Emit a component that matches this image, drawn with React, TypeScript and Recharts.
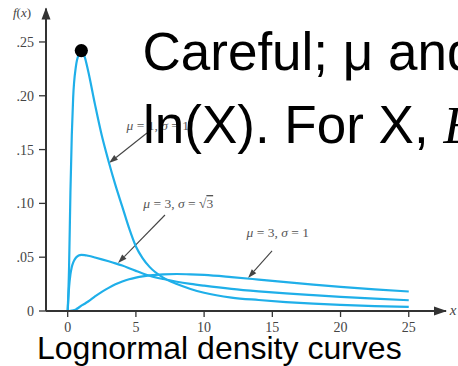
import React from "react";
import { LineChart, Line, XAxis, YAxis, ReferenceDot, ReferenceLine } from "recharts";

// x positions where the three lognormal densities are sampled
const xValues = [0, 0.1, 0.2, 0.3, 0.4, 0.6, 0.8, 1, 1.25, 1.5, 2, 2.5, 3, 3.5, 4, 4.5, 5, 5.5, 6, 7, 8, 9, 10, 12, 14, 16, 18, 20, 22.5, 25];

// f(x) for mu = 1, sigma = 1
const densityMu1Sigma1 = [0, 0.04, 0.11, 0.163, 0.198, 0.227, 0.238, 0.241, 0.236, 0.223, 0.192, 0.163, 0.139, 0.117, 0.097, 0.077, 0.06, 0.049, 0.041, 0.031, 0.025, 0.0205, 0.017, 0.0125, 0.0102, 0.0083, 0.0068, 0.0057, 0.0046, 0.0039];

// f(x) for mu = 3, sigma = sqrt(3)
const densityMu3SigmaRoot3 = [0, 0.022, 0.034, 0.041, 0.045, 0.0495, 0.0515, 0.0522, 0.052, 0.0513, 0.0497, 0.048, 0.0462, 0.0443, 0.0422, 0.0398, 0.0373, 0.0349, 0.0328, 0.0297, 0.0272, 0.0252, 0.0235, 0.0205, 0.0182, 0.0163, 0.0147, 0.0132, 0.0115, 0.01];

// f(x) for mu = 3, sigma = 1
const densityMu3Sigma1 = [0, 0, 0.0001, 0.0003, 0.0006, 0.0015, 0.003, 0.005, 0.0068, 0.0088, 0.0135, 0.0178, 0.0215, 0.0248, 0.0274, 0.0295, 0.031, 0.0322, 0.0331, 0.0341, 0.0344, 0.0341, 0.0335, 0.0315, 0.0292, 0.0268, 0.0245, 0.0224, 0.0201, 0.0181];

const xTicks = [0, 5, 10, 15, 20, 25];
const yTicks = [0, 0.05, 0.1, 0.15, 0.2, 0.25];
const yTickLabels = ["0", ".05", ".10", ".15", ".20", ".25"];

// mode of the mu = 1, sigma = 1 curve, marked with a dot
const modePoint = { x: 1, y: 0.242 };

const X_DOMAIN: [number, number] = [-1.59, 27.73];
const Y_DOMAIN: [number, number] = [0, 0.2811];

const data = xValues.map((x, i) => ({
  x,
  a: densityMu1Sigma1[i],
  b: densityMu3SigmaRoot3[i],
  c: densityMu3Sigma1[i],
}));

const CURVE = "#1fafe9";
const AXIS = "#333";
const NOTE = "#555";
const SERIF = "'Liberation Serif', 'Times New Roman', 'DejaVu Serif', serif";
const SANS = "'Liberation Sans', Arial, Helvetica, sans-serif";

// line with a filled arrowhead at the (x2, y2) end
const pointer = (p: any) => {
  const { x1, y1, x2, y2 } = p;
  const ang = Math.atan2(y2 - y1, x2 - x1);
  const len = 9;
  const half = 3;
  const bx = x2 - len * Math.cos(ang);
  const by = y2 - len * Math.sin(ang);
  const px = -Math.sin(ang) * half;
  const py = Math.cos(ang) * half;
  return (
    <g>
      <line x1={x1} y1={y1} x2={bx} y2={by} stroke="#444" strokeWidth={1.1} />
      <polygon points={`${x2},${y2} ${bx + px},${by + py} ${bx - px},${by - py}`} fill="#444" />
    </g>
  );
};

const paramLabel = (mu: string, sigma: string, root: boolean) => (p: any) => (
  <text x={p.cx} y={p.cy} textAnchor="middle" fontFamily={SERIF} fontSize={13.5} fill={NOTE}>
    <tspan fontStyle="italic">μ</tspan>
    <tspan>{` = ${mu}, `}</tspan>
    <tspan fontStyle="italic">σ</tspan>
    <tspan>{" = "}</tspan>
    {root ? <tspan>√</tspan> : null}
    <tspan textDecoration={root ? "overline" : undefined}>{sigma}</tspan>
  </text>
);

const xArrow = (p: any) => (
  <g>
    <polygon points={`${p.cx + 1},${p.cy} ${p.cx - 12},${p.cy - 4.5} ${p.cx - 12},${p.cy + 4.5}`} fill={AXIS} />
    <text x={p.cx + 7} y={p.cy + 4} textAnchor="middle" fontFamily={SERIF} fontStyle="italic" fontSize={15} fill="#444">
      x
    </text>
  </g>
);

const yArrow = (p: any) => (
  <g>
    <polygon points={`${p.cx},${p.cy - 1} ${p.cx - 4.5},${p.cy + 11} ${p.cx + 4.5},${p.cy + 11}`} fill={AXIS} />
    <text x={p.cx - 24} y={p.cy + 8.5} textAnchor="middle" fontFamily={SERIF} fontSize={13} fill="#444">
      <tspan fontStyle="italic">f</tspan>
      <tspan>(</tspan>
      <tspan fontStyle="italic">x</tspan>
      <tspan>)</tspan>
    </text>
  </g>
);

const modeDot = (p: any) => <circle cx={p.cx} cy={p.cy} r={6.6} fill="#000" />;

export default function App() {
  return (
    <div
      style={{
        position: "fixed",
        left: 0,
        top: 0,
        width: 458,
        height: 366,
        overflow: "hidden",
        background: "#fff",
      }}
    >
      <LineChart width={458} height={366} data={data} margin={{ top: 8.5, right: 12, bottom: 0, left: 0 }}>
        <XAxis
          dataKey="x"
          type="number"
          domain={X_DOMAIN}
          allowDataOverflow
          ticks={xTicks}
          height={55}
          tickSize={6}
          tickMargin={5}
          axisLine={{ stroke: AXIS, strokeWidth: 2 }}
          tickLine={{ stroke: AXIS, strokeWidth: 1.3 }}
          tick={{ fill: "#444", fontSize: 14, fontFamily: SERIF }}
        />
        <YAxis
          type="number"
          domain={Y_DOMAIN}
          allowDataOverflow
          ticks={yTicks}
          width={46}
          tickSize={7}
          tickMargin={5}
          tickFormatter={(v: number) => yTickLabels[yTicks.indexOf(v)] ?? ""}
          axisLine={{ stroke: AXIS, strokeWidth: 2 }}
          tickLine={{ stroke: AXIS, strokeWidth: 1.3 }}
          tick={{ fill: "#444", fontSize: 14, fontFamily: SERIF }}
        />

        <ReferenceLine segment={[{ x: 5.81, y: 0.1654 }, { x: 3.03, y: 0.1375 }]} shape={pointer} ifOverflow="visible" />
        <ReferenceLine segment={[{ x: 7.13, y: 0.0892 }, { x: 3.69, y: 0.0446 }]} shape={pointer} ifOverflow="visible" />
        <ReferenceLine segment={[{ x: 14.98, y: 0.0558 }, { x: 13.22, y: 0.0307 }]} shape={pointer} ifOverflow="visible" />

        <ReferenceDot x={6.6} y={0.168} shape={paramLabel("1", "1", false)} ifOverflow="visible" />
        <ReferenceDot x={8.1} y={0.0957} shape={paramLabel("3", "3", true)} ifOverflow="visible" />
        <ReferenceDot x={15.4} y={0.0688} shape={paramLabel("3", "1", false)} ifOverflow="visible" />

        <Line type="monotone" dataKey="a" stroke={CURVE} strokeWidth={2.2} dot={false} activeDot={false} isAnimationActive={false} />
        <Line type="monotone" dataKey="b" stroke={CURVE} strokeWidth={2.2} dot={false} activeDot={false} isAnimationActive={false} />
        <Line type="monotone" dataKey="c" stroke={CURVE} strokeWidth={2.2} dot={false} activeDot={false} isAnimationActive={false} />

        <ReferenceDot x={modePoint.x} y={modePoint.y} shape={modeDot} ifOverflow="visible" />
        <ReferenceDot x={X_DOMAIN[1]} y={0} shape={xArrow} ifOverflow="visible" />
        <ReferenceDot x={X_DOMAIN[0]} y={Y_DOMAIN[1]} shape={yArrow} ifOverflow="visible" />
      </LineChart>

      <svg width={458} height={366} style={{ position: "absolute", left: 0, top: 0, pointerEvents: "none" }}>
        <text x={142.5} y={70} fontFamily={SANS} fontSize={53} fill="#000">
          Careful; μ and σ are the mean and standard deviation of
        </text>
        <text x={143} y={143} fontFamily={SANS} fontSize={53} fill="#000">
          <tspan>ln(X). For X, </tspan>
          <tspan fontFamily={SERIF} fontStyle="italic">E</tspan>
          <tspan>(X)</tspan>
        </text>
        <text x={37} y={359} fontFamily={SANS} fontSize={32} fill="#000">
          Lognormal density curves
        </text>
      </svg>
    </div>
  );
}
